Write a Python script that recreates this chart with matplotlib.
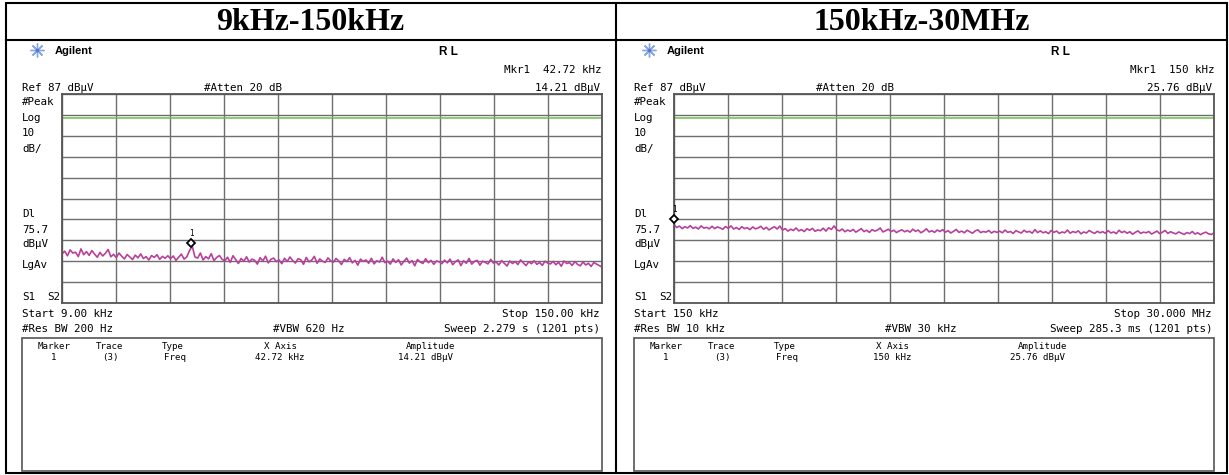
import numpy as np
import matplotlib
matplotlib.use("Agg")
import matplotlib.pyplot as plt
from matplotlib.patches import Rectangle

W, H = 1229, 475  # figure size in pixels (dpi 100)

titles = ["9kHz-150kHz", "150kHz-30MHz"]
start_khz = [9.0, 150.0]
stop_khz = [150.0, 30000.0]
ref_level = 87.0          # dBuV, top of screen
db_per_div = 10.0
display_line = 75.7       # dBuV, green line
marker_khz = [42.72, 150.0]
marker_db = [14.21, 25.76]

# trace level in dBuV, sampled evenly from start to stop
trace_9k_150k = [
    10.5, 11.8, 9.6, 12.4, 10.9, 11.3, 9.2, 12.9, 10.1, 11.6, 9.8, 12.1, 10.4, 8.9, 11.2, 9.5, 10.8, 12.6, 9.1, 10.3,
    8.7, 10.9, 9.4, 8.1, 10.2, 9.0, 7.8, 9.9, 8.6, 10.5, 8.3, 9.2, 7.6, 9.7, 8.8, 10.1, 7.9, 9.3, 8.4, 9.6,
    8.2, 9.5, 7.4, 8.9, 10.4, 8.0, 9.1, 12.1, 14.2, 9.0, 8.5, 10.9, 7.6, 9.2, 8.1, 10.6, 7.3, 8.8, 9.7, 7.9,
    7.2, 8.9, 6.4, 9.6, 7.8, 5.9, 8.3, 7.0, 9.1, 6.6, 8.0, 7.4, 5.6, 8.7, 7.1, 9.4, 6.2, 7.9, 8.5, 6.8,
    7.6, 5.8, 8.4, 6.9, 9.0, 7.3, 6.1, 8.2, 7.7, 5.5, 8.8, 6.7, 7.5, 9.3, 6.0, 8.1, 7.0, 6.4, 8.6, 7.2,
    6.5, 8.3, 7.1, 5.4, 7.9, 6.8, 8.7, 6.2, 7.4, 5.1, 8.0, 6.9, 7.6, 6.0, 8.4, 5.7, 7.2, 6.6, 8.9, 6.3,
    7.0, 5.6, 8.1, 6.4, 7.7, 5.2, 6.9, 8.5, 6.1, 7.3, 4.8, 7.8, 6.6, 5.9, 8.2, 6.3, 7.4, 5.5, 7.1, 6.7,
    5.8, 7.5, 6.2, 8.0, 5.3, 6.8, 7.6, 4.9, 7.2, 6.0, 8.3, 5.6, 6.9, 7.4, 5.1, 7.0, 6.4, 5.7, 7.9, 6.1,
    6.6, 5.2, 7.3, 6.0, 4.7, 7.1, 5.9, 6.8, 5.4, 7.6, 6.2, 4.9, 6.7, 5.8, 7.2, 5.5, 6.4, 5.0, 7.0, 6.1,
    5.7, 6.9, 5.3, 6.5, 4.6, 7.1, 5.9, 6.3, 5.0, 6.8, 5.5, 4.8, 6.6, 5.2, 6.0, 4.5, 6.4, 5.6, 4.9, 4.2,
]
trace_150k_30m = [
    24.6, 23.1, 23.8, 22.6, 23.5, 22.9, 24.0, 22.7, 23.3, 22.4, 23.9, 22.8, 23.2, 22.5, 23.7, 22.6, 23.4, 22.9, 22.3, 23.6,
    22.7, 23.9, 22.4, 23.1, 22.2, 23.5, 22.6, 23.0, 22.1, 23.4, 22.5, 22.9, 23.7, 22.3, 23.2, 22.0, 22.8, 23.5, 22.4, 23.8,
    21.9, 22.6, 21.4, 22.3, 21.7, 22.9, 21.5, 22.1, 21.2, 22.5, 21.8, 22.7, 21.3, 22.0, 21.6, 22.8, 21.4, 23.0, 22.2, 23.9,
    22.0, 21.5, 22.4, 21.1, 21.9, 21.3, 22.2, 20.9, 21.7, 22.6, 21.2, 21.8, 20.8, 22.1, 21.4, 21.9, 22.9, 21.0, 21.6, 22.3,
    21.2, 21.8, 20.7, 21.5, 22.0, 21.1, 21.7, 20.9, 22.3, 21.3, 21.9, 20.6, 21.4, 22.5, 21.0, 21.6, 20.8, 21.9, 21.2, 22.1,
    20.9, 21.6, 20.5, 21.3, 22.2, 20.8, 21.4, 20.6, 21.8, 21.1, 20.4, 21.5, 22.0, 20.7, 21.2, 20.9, 21.7, 20.5, 21.3, 20.8,
    21.4, 20.6, 21.9, 20.8, 21.2, 20.3, 21.6, 21.0, 20.5, 21.8, 20.9, 21.3, 20.4, 22.1, 20.7, 21.5, 20.6, 21.1, 20.2, 21.7,
    20.8, 21.4, 20.3, 21.0, 20.6, 21.9, 20.4, 21.2, 20.7, 21.5, 20.1, 21.0, 20.5, 21.7, 20.9, 20.3, 21.3, 20.6, 21.1, 20.4,
    21.6, 20.5, 21.0, 20.2, 21.8, 20.7, 21.3, 20.4, 21.1, 19.9, 20.8, 21.5, 20.3, 20.9, 20.6, 21.2, 20.0, 20.7, 21.4, 20.2,
    20.9, 21.7, 20.3, 21.1, 20.5, 20.1, 21.0, 20.4, 19.8, 20.7, 20.2, 21.2, 20.0, 20.6, 19.7, 20.4, 20.9, 20.1, 19.8, 20.5,
]
traces = [trace_9k_150k, trace_150k_30m]

# screen annotations
mkr_freq_txt = ["Mkr1  42.72 kHz", "Mkr1  150 kHz"]
mkr_amp_txt = ["14.21 dB\u00b5V", "25.76 dB\u00b5V"]
start_txt = ["Start 9.00 kHz", "Start 150 kHz"]
stop_txt = ["Stop 150.00 kHz", "Stop 30.000 MHz"]
rbw_txt = ["#Res BW 200 Hz", "#Res BW 10 kHz"]
vbw_txt = ["#VBW 620 Hz", "#VBW 30 kHz"]
sweep_txt = ["Sweep 2.279 s (1201 pts)", "Sweep 285.3 ms (1201 pts)"]
table_x_txt = ["42.72 kHz", "150 kHz"]
table_amp_txt = ["14.21 dB\u00b5V", "25.76 dB\u00b5V"]

MONO = "DejaVu Sans Mono"
GRID_C = "#6e6e6e"
TRACE_C = "#b8409c"
GREEN_C = "#6cc04a"

fig = plt.figure(figsize=(W / 100, H / 100), dpi=100)
fig.patch.set_facecolor("white")

# background axes in pixel coordinates for the frame and all the text
bg = fig.add_axes([0, 0, 1, 1])
bg.set_xlim(0, W)
bg.set_ylim(H, 0)
bg.axis("off")

# outer table
bg.add_patch(Rectangle((6, 3), 1221, 470, fill=False, lw=1.5, ec="black"))
bg.plot([6, 1227], [40, 40], color="black", lw=1.5)
bg.plot([616, 616], [3, 473], color="black", lw=1.5)


def txt(x, y, s, size=7.8, ha="left", **kw):
    # y is the visual centre of capitals, in pixels from the top
    bg.text(x, y + 4, s, fontsize=size, ha=ha, va="baseline", family=MONO, **kw)


def px_axes(x0, y0, x1, y1):
    return fig.add_axes([x0 / W, 1 - y1 / H, (x1 - x0) / W, (y1 - y0) / H])


for i in range(2):
    dx = 612 * i
    # header title
    bg.text(310 + dx, 22, titles[i], fontsize=23, fontweight="bold",
            family="Liberation Serif", ha="center", va="center")

    # Agilent logo and top line
    bg.plot(37 + dx, 50, marker=(8, 2, 0), ms=10, color="#8aa6e6", mew=1.0)
    bg.plot(37 + dx, 50, marker="o", ms=2.5, color="#5577cc", mew=0)
    bg.text(55 + dx, 54, "Agilent", fontsize=8, fontweight="bold",
            family="Liberation Sans", va="baseline")
    bg.text(448 + dx, 55, "R L", fontsize=8.5, fontweight="bold",
            family="Liberation Sans", ha="center", va="baseline")

    txt(602 + dx, 69, mkr_freq_txt[i], ha="right")
    txt(22 + dx, 87, "Ref 87 dB\u00b5V")
    txt(204 + dx, 87, "#Atten 20 dB")
    txt(600 + dx, 87, mkr_amp_txt[i], ha="right")

    for lbl, yy in [("#Peak", 101), ("Log", 117), ("10", 132), ("dB/", 148),
                    ("Dl", 213), ("75.7", 229), ("dB\u00b5V", 243), ("LgAv", 264)]:
        txt(22 + dx, yy, lbl)
    txt(22 + dx, 296, "S1")
    txt(47 + dx, 296, "S2")

    txt(22 + dx, 313, start_txt[i])
    txt(599 + dx, 313, stop_txt[i], ha="right")
    txt(22 + dx, 328, rbw_txt[i])
    txt(273 + dx, 328, vbw_txt[i])
    txt(600 + dx, 328, sweep_txt[i], ha="right")

    # marker table
    bg.add_patch(Rectangle((22 + dx, 338), 580, 133, fill=False, lw=1.2, ec="#555555"))
    ts = 6.6
    txt(54 + dx, 345, "Marker", size=ts, ha="center")
    txt(110 + dx, 345, "Trace", size=ts, ha="center")
    txt(162 + dx, 345, "Type", size=ts)
    txt(280 + dx, 345, "X Axis", size=ts, ha="center")
    txt(431 + dx, 345, "Amplitude", size=ts, ha="center")
    txt(54 + dx, 356, "1", size=ts, ha="center")
    txt(110 + dx, 356, "(3)", size=ts, ha="center")
    txt(164 + dx, 356, "Freq", size=ts)
    txt(280 + dx, 356, table_x_txt[i], size=ts, ha="center")
    txt(425 + dx, 356, table_amp_txt[i], size=ts, ha="center")

    # spectrum screen
    ax = px_axes(62 + dx, 94, 602 + dx, 303)
    f0, f1 = start_khz[i], stop_khz[i]
    ax.set_xlim(f0, f1)
    ax.set_ylim(ref_level - 10 * db_per_div, ref_level)
    ax.set_xticks(np.linspace(f0, f1, 11))
    ax.set_yticks(ref_level - db_per_div * np.arange(11))
    ax.tick_params(length=0, labelbottom=False, labelleft=False)
    ax.grid(True, color=GRID_C, lw=1.0)
    ax.set_axisbelow(True)
    for sp in ax.spines.values():
        sp.set_color("#555555")
        sp.set_linewidth(1.3)
    ax.patch.set_alpha(0)

    freqs = np.linspace(f0, f1, len(traces[i]))
    ax.axhline(display_line, color=GREEN_C, lw=1.1)
    ax.plot(freqs, traces[i], color=TRACE_C, lw=1.2)
    ax.plot(marker_khz[i], marker_db[i] + 1.5, marker="D", ms=4.5, mfc="white",
            mec="black", mew=1.3, clip_on=False, zorder=5)
    ax.annotate("1", (marker_khz[i], marker_db[i] + 1.5), xytext=(0, 5),
                textcoords="offset points", ha="center", fontsize=5.5,
                family=MONO, annotation_clip=False)

fig.savefig("out.png", dpi=100)
